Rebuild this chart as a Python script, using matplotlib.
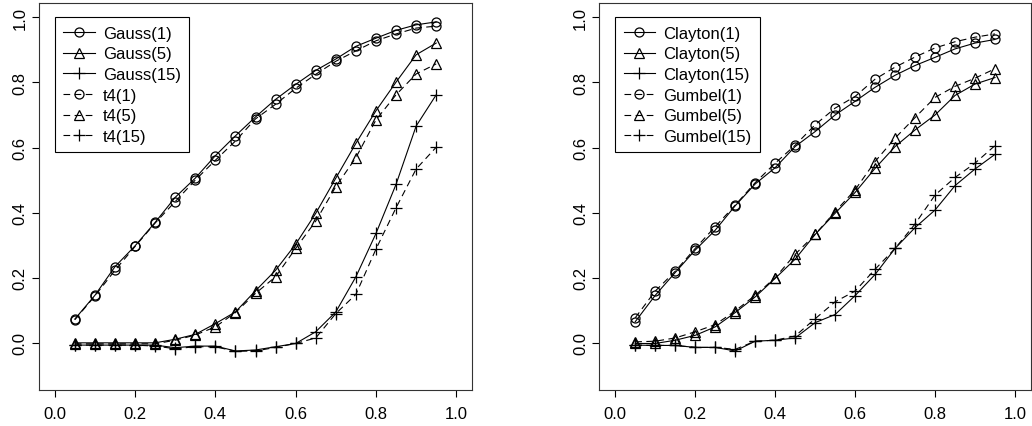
import matplotlib
matplotlib.use("Agg")
import matplotlib.pyplot as plt

plt.rcParams["font.family"] = ["Liberation Sans", "DejaVu Sans"]

# ---------------------------
# Data
# ---------------------------
x = [0.05, 0.10, 0.15, 0.20, 0.25, 0.30, 0.35, 0.40, 0.45, 0.50,
     0.55, 0.60, 0.65, 0.70, 0.75, 0.80, 0.85, 0.90, 0.95]

# left panel
gauss_1 = [0.073, 0.146, 0.234, 0.298, 0.370, 0.447, 0.506, 0.575, 0.636, 0.694,
           0.748, 0.794, 0.837, 0.872, 0.911, 0.936, 0.960, 0.977, 0.986]
gauss_5 = [0.000, 0.000, 0.000, 0.000, 0.000, 0.011, 0.026, 0.059, 0.095, 0.160,
           0.223, 0.303, 0.398, 0.506, 0.613, 0.713, 0.801, 0.885, 0.921]
gauss_15 = [-0.007, -0.007, -0.007, -0.007, -0.007, -0.015, -0.010, -0.010, -0.025, -0.022,
            -0.012, -0.002, 0.034, 0.095, 0.203, 0.336, 0.487, 0.666, 0.762]
t4_1 = [0.071, 0.144, 0.223, 0.296, 0.368, 0.434, 0.500, 0.561, 0.620, 0.688,
        0.733, 0.782, 0.825, 0.865, 0.897, 0.928, 0.949, 0.967, 0.973]
t4_5 = [-0.003, -0.003, -0.003, -0.003, -0.003, 0.008, 0.024, 0.049, 0.093, 0.152,
        0.203, 0.290, 0.374, 0.480, 0.569, 0.685, 0.762, 0.826, 0.857]
t4_15 = [-0.007, -0.007, -0.007, -0.007, -0.010, -0.018, -0.012, -0.012, -0.026, -0.025,
         -0.014, -0.002, 0.015, 0.090, 0.149, 0.288, 0.415, 0.534, 0.601]

# right panel
clayton_1 = [0.065, 0.146, 0.216, 0.285, 0.346, 0.421, 0.488, 0.538, 0.603, 0.649,
             0.700, 0.742, 0.785, 0.822, 0.852, 0.877, 0.903, 0.921, 0.932]
clayton_5 = [-0.002, -0.002, 0.008, 0.023, 0.049, 0.093, 0.141, 0.198, 0.257, 0.333,
             0.398, 0.462, 0.536, 0.603, 0.654, 0.700, 0.760, 0.795, 0.815]
clayton_15 = [-0.007, -0.008, -0.008, -0.014, -0.014, -0.025, 0.005, 0.008, 0.015, 0.062,
              0.087, 0.145, 0.210, 0.290, 0.354, 0.408, 0.483, 0.534, 0.579]
gumbel_1 = [0.077, 0.159, 0.220, 0.290, 0.357, 0.423, 0.492, 0.552, 0.607, 0.670,
            0.721, 0.757, 0.810, 0.847, 0.878, 0.906, 0.925, 0.939, 0.949]
gumbel_5 = [0.003, 0.005, 0.015, 0.034, 0.056, 0.098, 0.146, 0.200, 0.272, 0.333,
            0.403, 0.470, 0.557, 0.629, 0.692, 0.754, 0.788, 0.813, 0.842]
gumbel_15 = [-0.007, -0.008, -0.008, -0.014, -0.014, -0.020, 0.005, 0.008, 0.021, 0.074,
             0.126, 0.159, 0.226, 0.290, 0.365, 0.454, 0.508, 0.552, 0.606]

ticks = [0.0, 0.2, 0.4, 0.6, 0.8, 1.0]
tick_labels = ["0.0", "0.2", "0.4", "0.6", "0.8", "1.0"]

DASH = (0, (6, 4))
MARKERS = [("o", 6.5), ("^", 7.5), ("+", 8.5)]


def draw_panel(ax, solid, dashed, names):
    series = [(s, "-") for s in solid] + [(d, DASH) for d in dashed]
    for i, (ys, ls) in enumerate(series):
        m, ms = MARKERS[i % 3]
        ax.plot(x, ys, color="black", lw=0.8, linestyle=ls, marker=m, markersize=ms,
                markerfacecolor="none", markeredgecolor="black", markeredgewidth=0.9,
                label=names[i])
    ax.set_xlim(-0.04, 1.04)
    ax.set_ylim(-0.144, 1.044)
    ax.set_xticks(ticks)
    ax.set_xticklabels(tick_labels)
    ax.set_yticks(ticks)
    ax.set_yticklabels(tick_labels, rotation=90, va="center")
    ax.tick_params(direction="out", length=5, width=0.8, labelsize=12, colors="black")
    ax.tick_params(axis="x", pad=7)
    ax.tick_params(axis="y", pad=3)
    for sp in ax.spines.values():
        sp.set_linewidth(0.8)
        sp.set_color("#333333")
    ax.legend(loc="upper left", bbox_to_anchor=(0.0, 1.0), bbox_transform=ax.transData,
              fontsize=12, frameon=True, fancybox=False, framealpha=1, edgecolor="black",
              borderpad=0.5, labelspacing=0.34, handlelength=1.9, handletextpad=0.5,
              borderaxespad=0.0)
    ax.get_legend().get_frame().set_linewidth(0.8)


fig = plt.figure(figsize=(10.32, 4.27), dpi=100)
ax1 = fig.add_axes([0.0375, 0.085, 0.4202, 0.9056])
ax2 = fig.add_axes([0.5807, 0.085, 0.4183, 0.9056])

draw_panel(ax1, [gauss_1, gauss_5, gauss_15], [t4_1, t4_5, t4_15],
           ["Gauss(1)", "Gauss(5)", "Gauss(15)", "t4(1)", "t4(5)", "t4(15)"])
draw_panel(ax2, [clayton_1, clayton_5, clayton_15], [gumbel_1, gumbel_5, gumbel_15],
           ["Clayton(1)", "Clayton(5)", "Clayton(15)", "Gumbel(1)", "Gumbel(5)", "Gumbel(15)"])

fig.savefig("out.png", dpi=100)
